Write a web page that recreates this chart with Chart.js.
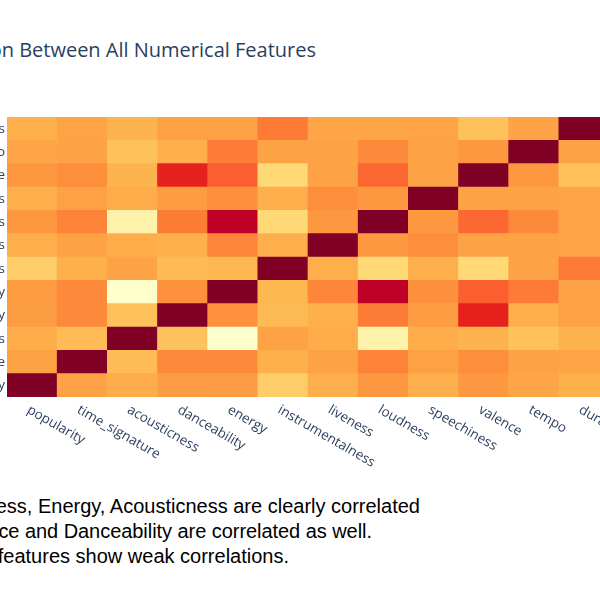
<!DOCTYPE html>
<html><head><meta charset="utf-8">
<script src="https://cdn.jsdelivr.net/npm/chart.js@4.4.1/dist/chart.umd.min.js"></script>
<style>
html,body{margin:0;padding:0;background:#fff;}
body{overflow:hidden;width:600px;height:600px;position:relative;}
#wrap{position:absolute;left:-140px;top:0;width:760px;height:470px;}
#title{position:absolute;right:284px;top:40px;white-space:nowrap;font-family:'Open Sans';font-size:20px;line-height:20px;color:#2a3f5f;}
.note{position:absolute;white-space:nowrap;font-family:'Liberation Sans',Arial,sans-serif;font-size:20px;line-height:24px;color:#000;text-align:right;}
</style></head>
<body>
<div id="title">Correlation Between All Numerical Features</div>
<div id="wrap"><canvas id="c"></canvas></div>
<div class="note" style="right:180px;top:494px;">Loudness, Energy, Acousticness are clearly correlated</div>
<div class="note" style="right:228px;top:519px;letter-spacing:-0.05px;">Valence and Danceability are correlated as well.</div>
<div class="note" style="right:311px;top:544px;">Other features show weak correlations.</div>
<script>
const features = ['popularity','time_signature','acousticness','danceability','energy','instrumentalness','liveness','loudness','speechiness','valence','tempo','duration_ms'];

const popularity       = [1, 0.02, -0.04, 0.05, 0.06, -0.21, -0.05, 0.08, -0.05, 0.08, 0.00, -0.06];
const time_signature   = [0.02, 1, -0.12, 0.16, 0.16, -0.06, 0.02, 0.18, 0.03, 0.14, 0.02, 0.01];
const acousticness     = [-0.04, -0.12, 1, -0.15, -0.71, 0.02, -0.04, -0.55, -0.03, -0.08, -0.15, -0.08];
const danceability     = [0.05, 0.16, -0.15, 1, 0.12, -0.11, -0.06, 0.20, 0.06, 0.54, -0.05, 0.03];
const energy           = [0.06, 0.16, -0.71, 0.12, 1, -0.10, 0.17, 0.78, 0.13, 0.30, 0.21, 0.03];
const instrumentalness = [-0.21, -0.06, 0.02, -0.11, -0.10, 1, -0.05, -0.28, -0.05, -0.28, 0.02, 0.21];
const liveness         = [-0.05, 0.02, -0.04, -0.06, 0.17, -0.05, 1, 0.08, 0.14, 0.02, 0.02, 0.00];
const loudness         = [0.08, 0.18, -0.55, 0.20, 0.78, -0.28, 0.08, 1, 0.08, 0.27, 0.16, 0.00];
const speechiness      = [-0.05, 0.03, -0.03, 0.06, 0.13, -0.05, 0.14, 0.08, 1, 0.02, 0.02, 0.01];
const valence          = [0.08, 0.14, -0.08, 0.54, 0.30, -0.28, 0.02, 0.27, 0.02, 1, 0.08, -0.15];
const tempo            = [0.00, 0.02, -0.15, -0.05, 0.21, 0.02, 0.02, 0.16, 0.02, 0.08, 1, 0.02];
const duration_ms      = [-0.06, 0.01, -0.08, 0.03, 0.03, 0.21, 0.00, 0.00, 0.01, -0.15, 0.02, 1];

// rows listed bottom to top
const rows = [popularity, time_signature, acousticness, danceability, energy, instrumentalness,
              liveness, loudness, speechiness, valence, tempo, duration_ms];

// Plotly YlOrRd (light at min, dark at max)
const stops = [[255,255,204],[255,237,160],[254,217,118],[254,178,76],[253,141,60],
               [252,78,42],[227,26,28],[189,0,38],[128,0,38]];
const allVals = rows.flat();
const zmin = Math.min(...allVals), zmax = Math.max(...allVals);
function colorFor(v){
  let t = (v - zmin)/(zmax - zmin);
  t = Math.max(0, Math.min(1, t));
  const p = t*(stops.length-1);
  const i = Math.min(Math.floor(p), stops.length-2);
  const f = p - i;
  const a = stops[i], b = stops[i+1];
  const c = a.map((x,k)=>Math.round(x + (b[k]-x)*f));
  return `rgb(${c[0]},${c[1]},${c[2]})`;
}

const datasets = rows.map((r, ri) => ({
  label: features[ri],
  data: r.map(() => 1),
  corr: r,
  backgroundColor: r.map(colorFor),
  borderWidth: 0,
  barPercentage: 1,
  categoryPercentage: 1,
  stack: 's'
}));

const xLabelPlugin = {
  id: 'xLabels',
  afterDraw(chart){
    const ctx = chart.ctx, xs = chart.scales.x, area = chart.chartArea;
    ctx.save();
    ctx.font = "13.5px 'Open Sans'";
    ctx.fillStyle = '#2a3f5f';
    ctx.textAlign = 'left';
    ctx.textBaseline = 'middle';
    features.forEach((f, i) => {
      const x = xs.getPixelForValue(i);
      ctx.save();
      ctx.translate(x - 4, area.bottom + 12);
      ctx.rotate(30*Math.PI/180);
      ctx.fillText(f, 0, 0);
      ctx.restore();
    });
    ctx.restore();
  }
};

new Chart(document.getElementById('c'), {
  type: 'bar',
  data: { labels: features, datasets },
  plugins: [xLabelPlugin],
  options: {
    responsive: true,
    maintainAspectRatio: false,
    animation: false,
    layout: { padding: { top: 117, right: 11, left: 0, bottom: 0 } },
    plugins: { legend: { display: false }, tooltip: {
      callbacks: { label: (c) => c.dataset.label + ': ' + c.dataset.corr[c.dataIndex] } } },
    scales: {
      x: {
        stacked: true,
        grid: { display: false, drawTicks: false }, border: { display: false },
        ticks: { display: false },
        afterFit(s){ s.height = 73; }
      },
      y: {
        stacked: true, min: 0, max: 12,
        grid: { display: false, drawTicks: false }, border: { display: false },
        afterBuildTicks(axis){ axis.ticks = features.map((_, i) => ({ value: i + 0.5 })); },
        afterFit(s){ s.width = 147; },
        ticks: {
          autoSkip: false, padding: 2,
          font: { family: 'Open Sans', size: 13.5 }, color: '#2a3f5f',
          callback: (v) => features[Math.floor(v)]
        }
      }
    }
  }
});
</script>
</body></html>
